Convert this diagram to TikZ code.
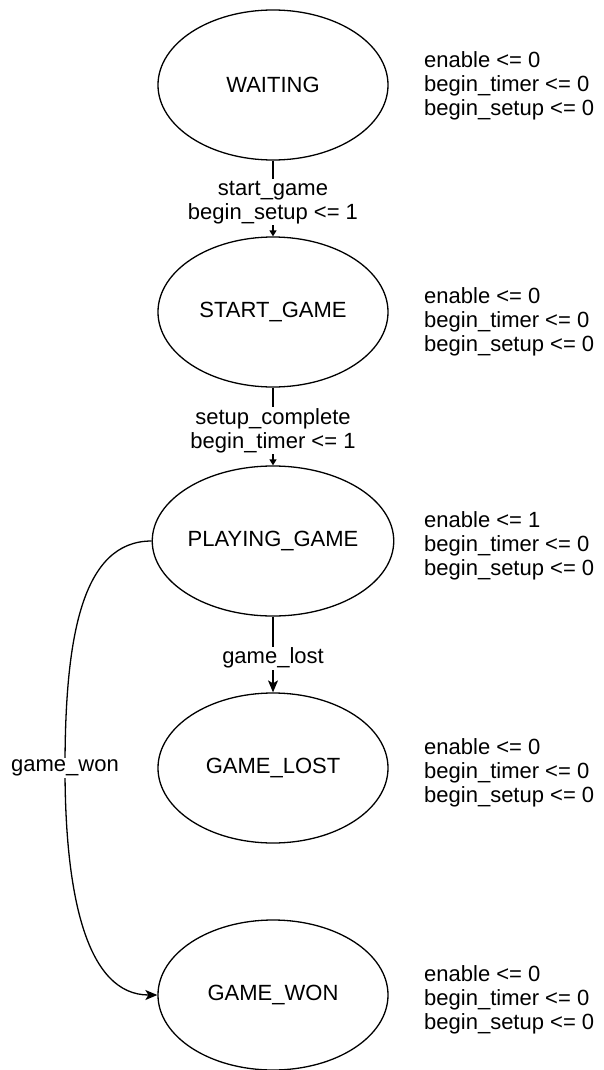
\documentclass[tikz,border=0pt]{standalone}
\usepackage{fontspec}
\setmainfont{Liberation Sans}
\usetikzlibrary{shapes.geometric,arrows.meta}

\begin{document}
\begin{tikzpicture}[x=1pt,y=-1pt,
  font=\fontsize{22}{24}\selectfont,
  state/.style={ellipse,draw,line width=1.3pt,minimum width=230pt,minimum height=150pt,inner sep=0pt},
  outputs/.style={anchor=west,align=left,inner sep=0pt},
  wire/.style={line width=1.3pt},
  smalltip/.style={wire,-{Triangle[length=6pt,width=7pt]}},
  bigtip/.style={wire,-{Stealth[length=12pt,width=10pt,inset=3pt]}},
  cond/.style={fill=white,align=center,inner sep=1.5pt}]

  % page frame
  \useasboundingbox (0,0) rectangle (603,1070);

  % states
  \node[state] (wait)  at (273,85)  {WAITING};
  \node[state] (start) at (273,312) {START\_GAME};
  \node[state] (play)  at (273,541) {PLAYING\_GAME};
  \node[state] (lost)  at (273,768) {GAME\_LOST};
  \node[state] (won)   at (273,995) {GAME\_WON};

  % output assignments of each state
  \node[outputs] (owait)  at (424,86)   {enable <= 0\\begin\_timer <= 0\\begin\_setup <= 0};
  \node[outputs] (ostart) at (424,322)  {enable <= 0\\begin\_timer <= 0\\begin\_setup <= 0};
  \node[outputs] (oplay)  at (424,546)  {enable <= 1\\begin\_timer <= 0\\begin\_setup <= 0};
  \node[outputs] (olost)  at (424,773)  {enable <= 0\\begin\_timer <= 0\\begin\_setup <= 0};
  \node[outputs] (owon)   at (424,1000) {enable <= 0\\begin\_timer <= 0\\begin\_setup <= 0};

  % transitions
  \draw[smalltip] (wait.south) -- node[cond,pos=0.55] {start\_game\\begin\_setup <= 1} (start.north);
  \draw[smalltip] (start.south) -- node[cond,pos=0.55] {setup\_complete\\begin\_timer <= 1} (play.north);
  \draw[bigtip] (play.south) -- node[cond,pos=0.55] {game\_lost} (lost.north);

  \coordinate (wonbend) at (65,768);
  \draw[bigtip] (play.west) .. controls +(-70,0) and +(0,-130) .. (wonbend)
                            .. controls +(0,130) and +(-70,0) .. (won.west);
  \node[cond] (wonlabel) at (wonbend) {game\_won};
\end{tikzpicture}
\end{document}
